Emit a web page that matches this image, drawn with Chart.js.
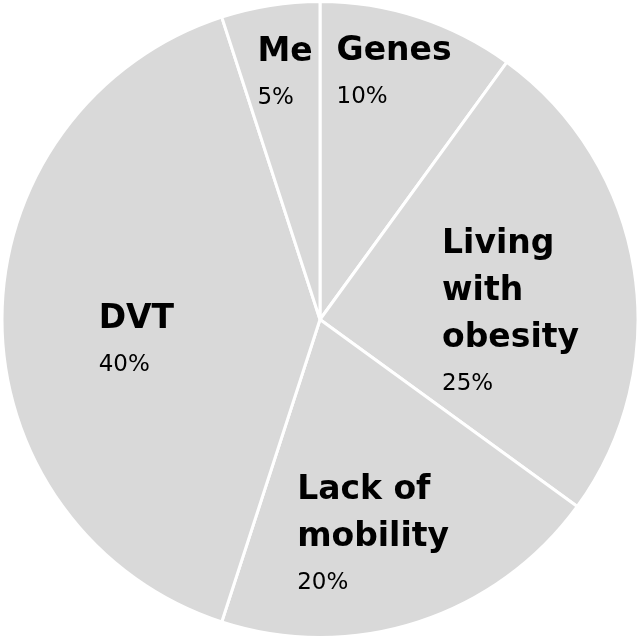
<!DOCTYPE html>
<html>
<head>
<meta charset="utf-8">
<script src="https://cdn.jsdelivr.net/npm/chart.js@4"></script>
<style>
  html, body { margin: 0; padding: 0; background: #ffffff; }
  #wrap { width: 640px; height: 639px; }
</style>
</head>
<body>
<div id="wrap"><canvas id="pieChart"></canvas></div>
<script>
// slice data, clockwise from 12 o'clock
const categories = [['Genes'], ['Living', 'with', 'obesity'], ['Lack of', 'mobility'], ['DVT'], ['Me']];
const shares = [10, 25, 20, 40, 5];
const percentLabels = ['10%', '25%', '20%', '40%', '5%'];

// where each label block sits: fraction of radius, angle nudge in degrees
const labelPlacement = [[0.82, -1.5], [0.60, 6], [0.69, 4], [0.58, -5.5], [0.79, 1]];

const labelFont = 'bold 33px "DejaVu Sans", sans-serif';
const pctFont = '23px "DejaVu Sans", sans-serif';

const sliceLabels = {
    id: 'sliceLabels',
    afterDatasetsDraw(chart) {
        const ctx = chart.ctx;
        const arcs = chart.getDatasetMeta(0).data;
        arcs.forEach((arc, i) => {
            const lines = categories[i];
            const [frac, nudge] = labelPlacement[i];
            const mid = (arc.startAngle + arc.endAngle) / 2 + nudge * Math.PI / 180;
            const cx = arc.x + Math.cos(mid) * arc.outerRadius * frac;
            const cy = arc.y + Math.sin(mid) * arc.outerRadius * frac;

            ctx.save();
            ctx.font = labelFont;
            let w = 0;
            lines.forEach(l => { w = Math.max(w, ctx.measureText(l).width); });
            ctx.font = pctFont;
            w = Math.max(w, ctx.measureText(percentLabels[i]).width);

            const capH = 24, lineStep = 47, pctStep = 43;
            const h = capH + (lines.length - 1) * lineStep + pctStep;
            const left = cx - w / 2;
            let y = cy - h / 2 + capH;

            ctx.fillStyle = '#000000';
            ctx.textAlign = 'left';
            ctx.textBaseline = 'alphabetic';
            ctx.font = labelFont;
            lines.forEach((l, j) => {
                ctx.fillText(l, left, y);
                if (j < lines.length - 1) y += lineStep;
            });
            y += pctStep;
            ctx.font = pctFont;
            ctx.fillText(percentLabels[i], left, y);
            ctx.restore();
        });
    }
};

new Chart(document.getElementById('pieChart').getContext('2d'), {
    type: 'pie',
    data: {
        labels: categories.map(c => c.join(' ')),
        datasets: [{
            data: shares,
            backgroundColor: '#d9d9d9',
            borderColor: '#ffffff',
            borderWidth: 3
        }]
    },
    options: {
        responsive: true,
        maintainAspectRatio: false,
        animation: false,
        layout: { padding: 0 },
        plugins: {
            legend: { display: false },
            tooltip: { enabled: false }
        }
    },
    plugins: [sliceLabels]
});
</script>
</body>
</html>
